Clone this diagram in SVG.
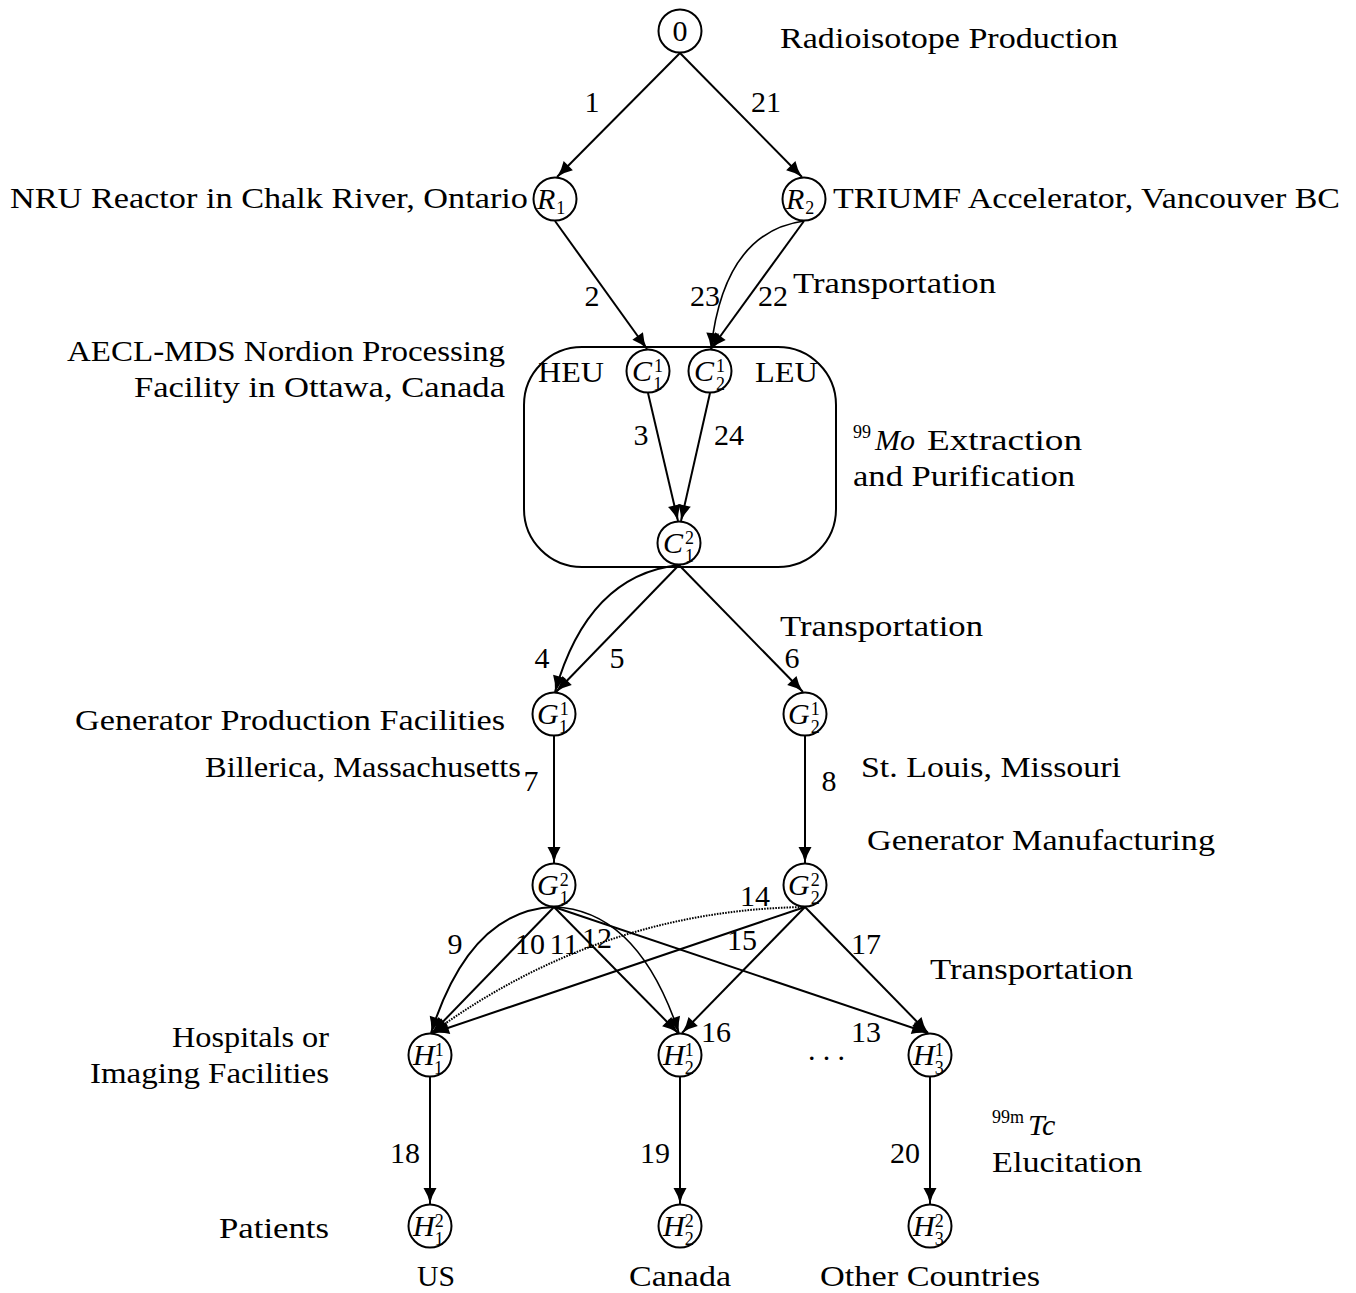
<svg xmlns="http://www.w3.org/2000/svg" width="1356" height="1293" viewBox="0 0 1356 1293">
<style>
text{font-family:"Liberation Serif","Times New Roman",serif;font-size:30px;fill:#000}
.lbl{text-anchor:middle}
.it{font-style:italic;font-size:30px}
.sm{font-style:normal;font-size:18px}
.nd{fill:#fff;stroke:#000;stroke-width:2}
.e{fill:none;stroke:#000;stroke-width:2;marker-end:url(#ah)}
.thin{stroke-width:1.6}
.dot{stroke-dasharray:1.6 1.2;stroke-width:2}
</style>
<defs>
<marker id="ah" markerUnits="userSpaceOnUse" markerWidth="18" markerHeight="16" viewBox="-1 -8 18 16" refX="16" refY="0" orient="auto">
<path d="M0,-6.5 Q7,-2 16,0 Q7,2 0,6.5 z" fill="#000"/>
</marker>
</defs>
<rect x="524" y="347" width="312" height="220" rx="58" ry="58" fill="none" stroke="#000" stroke-width="2"/>
<g id="connectors">
<path class="e" d="M680,53 L557,177"/>
<path class="e" d="M680,53 L802,177"/>
<path class="e" d="M555,221 L647,349"/>
<path class="e" d="M804,221 L711,349"/>
<path class="e thin" d="M804,221 Q724,232 711,349"/>
<path class="e" d="M648,393 L678,521"/>
<path class="e" d="M710,393 L681,521"/>
<path class="e" d="M679,565 Q588,575 555,692"/>
<path class="e" d="M679,565 L556,692"/>
<path class="e" d="M679,565 L803,692"/>
<path class="e" d="M554,736 L554,863"/>
<path class="e" d="M805,736 L805,863"/>
<path class="e" d="M554,907 Q470,910 431,1033"/>
<path class="e" d="M554,907 L432,1033"/>
<path class="e" d="M554,907 L678,1033"/>
<path class="e thin" d="M554,907 Q638,910 679,1033"/>
<path class="e" d="M554,907 L928,1033"/>
<path class="e dot" d="M805,907 Q600,910 432,1033"/>
<path class="e" d="M805,907 L433,1033"/>
<path class="e" d="M805,907 L682,1033"/>
<path class="e" d="M805,907 L928,1033"/>
<path class="e" d="M430,1077 L430,1204"/>
<path class="e" d="M680,1077 L680,1204"/>
<path class="e" d="M930,1077 L930,1204"/>
<g class="lbl">
<text x="592" y="112">1</text>
<text x="766" y="112">21</text>
<text x="592" y="306">2</text>
<text x="705" y="306">23</text>
<text x="773" y="306">22</text>
<text x="641" y="445">3</text>
<text x="729" y="445">24</text>
<text x="542" y="668">4</text>
<text x="617" y="668">5</text>
<text x="792" y="668">6</text>
<text x="531" y="791">7</text>
<text x="829" y="791">8</text>
<text x="455" y="954">9</text>
<text x="530" y="954">10</text>
<text x="564" y="954">11</text>
<text x="597" y="948">12</text>
<text x="755" y="906">14</text>
<text x="742" y="950">15</text>
<text x="866" y="954">17</text>
<text x="716" y="1042">16</text>
<text x="866" y="1042">13</text>
<text x="405" y="1163">18</text>
<text x="655" y="1163">19</text>
<text x="905" y="1163">20</text>
</g>
</g>
<g id="n0"><circle class="nd" cx="680" cy="31" r="21.5"/><text class="lbl" x="680" y="41">0</text></g>
<g id="R1"><circle class="nd" cx="555" cy="199" r="21.5"/><text class="it" x="537" y="209">R<tspan class="sm" dx="1" dy="5">1</tspan></text></g>
<g id="R2"><circle class="nd" cx="804" cy="199" r="21.5"/><text class="it" x="786" y="209">R<tspan class="sm" dx="1" dy="5">2</tspan></text></g>
<g id="C11"><circle class="nd" cx="648" cy="371" r="21.5"/><text class="it" x="632" y="381">C<tspan class="sm" dx="2" dy="-9">1</tspan><tspan class="sm" dx="-9" dy="18">1</tspan></text></g>
<g id="C21"><circle class="nd" cx="710" cy="371" r="21.5"/><text class="it" x="694" y="381">C<tspan class="sm" dx="2" dy="-9">1</tspan><tspan class="sm" dx="-9" dy="18">2</tspan></text></g>
<g id="C12"><circle class="nd" cx="679" cy="543" r="21.5"/><text class="it" x="663" y="553">C<tspan class="sm" dx="2" dy="-9">2</tspan><tspan class="sm" dx="-9" dy="18">1</tspan></text></g>
<g id="G11"><circle class="nd" cx="554" cy="714" r="21.5"/><text class="it" x="537" y="724">G<tspan class="sm" dx="1" dy="-9">1</tspan><tspan class="sm" dx="-9" dy="18">1</tspan></text></g>
<g id="G21"><circle class="nd" cx="805" cy="714" r="21.5"/><text class="it" x="788" y="724">G<tspan class="sm" dx="1" dy="-9">1</tspan><tspan class="sm" dx="-9" dy="18">2</tspan></text></g>
<g id="G12"><circle class="nd" cx="554" cy="885" r="21.5"/><text class="it" x="537" y="895">G<tspan class="sm" dx="1" dy="-9">2</tspan><tspan class="sm" dx="-9" dy="18">1</tspan></text></g>
<g id="G22"><circle class="nd" cx="805" cy="885" r="21.5"/><text class="it" x="788" y="895">G<tspan class="sm" dx="1" dy="-9">2</tspan><tspan class="sm" dx="-9" dy="18">2</tspan></text></g>
<g id="H11"><circle class="nd" cx="430" cy="1055" r="21.5"/><text class="it" x="413" y="1065">H<tspan class="sm" dx="0" dy="-9">1</tspan><tspan class="sm" dx="-9" dy="18">1</tspan></text></g>
<g id="H21"><circle class="nd" cx="680" cy="1055" r="21.5"/><text class="it" x="663" y="1065">H<tspan class="sm" dx="0" dy="-9">1</tspan><tspan class="sm" dx="-9" dy="18">2</tspan></text></g>
<g id="H31"><circle class="nd" cx="930" cy="1055" r="21.5"/><text class="it" x="913" y="1065">H<tspan class="sm" dx="0" dy="-9">1</tspan><tspan class="sm" dx="-9" dy="18">3</tspan></text></g>
<g id="H12"><circle class="nd" cx="430" cy="1226" r="21.5"/><text class="it" x="413" y="1236">H<tspan class="sm" dx="0" dy="-9">2</tspan><tspan class="sm" dx="-9" dy="18">1</tspan></text></g>
<g id="H22"><circle class="nd" cx="680" cy="1226" r="21.5"/><text class="it" x="663" y="1236">H<tspan class="sm" dx="0" dy="-9">2</tspan><tspan class="sm" dx="-9" dy="18">2</tspan></text></g>
<g id="H32"><circle class="nd" cx="930" cy="1226" r="21.5"/><text class="it" x="913" y="1236">H<tspan class="sm" dx="0" dy="-9">2</tspan><tspan class="sm" dx="-9" dy="18">3</tspan></text></g>
<g id="labels">
<text x="780" y="48" textLength="338" lengthAdjust="spacingAndGlyphs">Radioisotope Production</text>
<text x="10" y="208" textLength="518" lengthAdjust="spacingAndGlyphs">NRU Reactor in Chalk River, Ontario</text>
<text x="833" y="208" textLength="507" lengthAdjust="spacingAndGlyphs">TRIUMF Accelerator, Vancouver BC</text>
<text x="793" y="293" textLength="203" lengthAdjust="spacingAndGlyphs">Transportation</text>
<text x="67" y="361" textLength="438" lengthAdjust="spacingAndGlyphs">AECL-MDS Nordion Processing</text>
<text x="134" y="397" textLength="371" lengthAdjust="spacingAndGlyphs">Facility in Ottawa, Canada</text>
<text x="538" y="382" textLength="66" lengthAdjust="spacingAndGlyphs">HEU</text>
<text x="755" y="382" textLength="63" lengthAdjust="spacingAndGlyphs">LEU</text>
<text x="853" y="450"><tspan class="sm" font-size="20" dy="-12">99</tspan><tspan class="it" dy="12" dx="4">Mo</tspan></text>
<text x="927" y="450" textLength="155" lengthAdjust="spacingAndGlyphs">Extraction</text>
<text x="853" y="486" textLength="222" lengthAdjust="spacingAndGlyphs">and Purification</text>
<text x="780" y="636" textLength="203" lengthAdjust="spacingAndGlyphs">Transportation</text>
<text x="75" y="730" textLength="430" lengthAdjust="spacingAndGlyphs">Generator Production Facilities</text>
<text x="205" y="777" textLength="316" lengthAdjust="spacingAndGlyphs">Billerica, Massachusetts</text>
<text x="861" y="777" textLength="260" lengthAdjust="spacingAndGlyphs">St. Louis, Missouri</text>
<text x="867" y="850" textLength="348" lengthAdjust="spacingAndGlyphs">Generator Manufacturing</text>
<text x="930" y="979" textLength="203" lengthAdjust="spacingAndGlyphs">Transportation</text>
<text x="172" y="1047" textLength="157" lengthAdjust="spacingAndGlyphs">Hospitals or</text>
<text x="90" y="1083" textLength="239" lengthAdjust="spacingAndGlyphs">Imaging Facilities</text>
<text x="808" y="1060" textLength="37">...</text>
<text x="992" y="1135"><tspan class="sm" font-size="20" dy="-12">99m</tspan><tspan class="it" dy="12" dx="4">Tc</tspan></text>
<text x="992" y="1172" textLength="150" lengthAdjust="spacingAndGlyphs">Elucitation</text>
<text x="219" y="1238" textLength="110" lengthAdjust="spacingAndGlyphs">Patients</text>
<text x="417" y="1286" textLength="38" lengthAdjust="spacingAndGlyphs">US</text>
<text x="629" y="1286" textLength="102" lengthAdjust="spacingAndGlyphs">Canada</text>
<text x="820" y="1286" textLength="220" lengthAdjust="spacingAndGlyphs">Other Countries</text>
</g>
</svg>
